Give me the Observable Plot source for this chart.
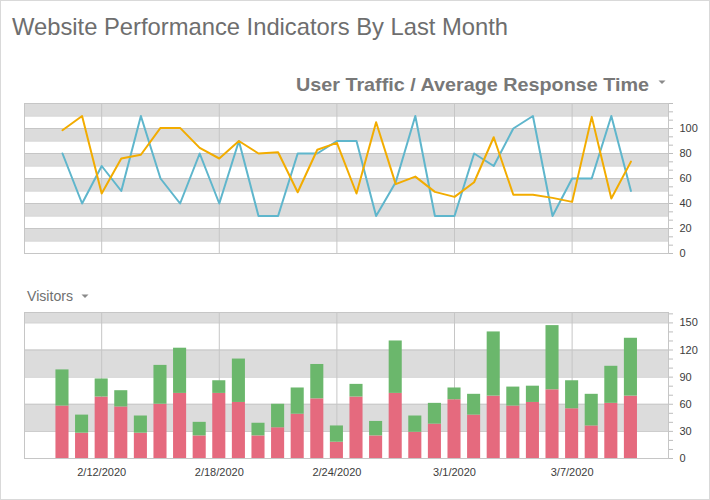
<!DOCTYPE html>
<html><head><meta charset="utf-8">
<script src="https://cdn.jsdelivr.net/npm/d3@7"></script>
<script src="https://cdn.jsdelivr.net/npm/@observablehq/plot@0.6"></script>
<style>
body{margin:0;background:#fff;}
#root{position:relative;width:710px;height:500px;overflow:hidden;background:#fff;font-family:"Liberation Sans",sans-serif;}
#root > svg, #root > div{position:absolute;}
#border{left:0;top:0;width:710px;height:500px;box-sizing:border-box;border:1px solid #d9d9d9;pointer-events:none;}
</style></head><body><div id="root"></div>
<script>
// ---- data ----
const dayLabels = ["2020-02-10","2020-02-11","2020-02-12","2020-02-13","2020-02-14","2020-02-15","2020-02-16","2020-02-17","2020-02-18","2020-02-19",
  "2020-02-20","2020-02-21","2020-02-22","2020-02-23","2020-02-24","2020-02-25","2020-02-26","2020-02-27","2020-02-28","2020-02-29",
  "2020-03-01","2020-03-02","2020-03-03","2020-03-04","2020-03-05","2020-03-06","2020-03-07","2020-03-08","2020-03-09","2020-03-10"];
const userTraffic = [80,40,70,50,110,60,40,80,40,90, 30,30,80,80,90,90,30,57,110,30, 30,80,70,100,110,30,60,60,110,50];
const avgResponse = [98.6,110,48,76,79,100.5,100.5,84.5,76,90, 80,81,49,83,88.5,48,105,55.5,61.5,49.3, 45.3,57,93,47,47,44.5,41.3,109.3,44,73.5];
const visitorsA = [58,28,68,57,28,60,72,25,72,62, 25,34,49,66,18,68,25,72,29,38, 65,48,69,58,62,76,55,36,61,69];
const visitorsB = [40,20,20,18,19,43,50,15,14,48, 14,26,29,38,18,14,16,58,18,23, 13,23,71,21,18,71,31,35,41,64];
const xTickLabels = ["2/12/2020","2/18/2020","2/24/2020","3/1/2020","3/7/2020"];
const topYLabels = [0,20,40,60,80,100];
const bottomYLabels = [0,30,60,90,120,150];

// ---- derived ----
const parseMDY = s => { const [m,d,y] = s.split("/").map(Number); return new Date(Date.UTC(y, m-1, d)); };
const fmtMDY = d => `${d.getUTCMonth()+1}/${d.getUTCDate()}/${d.getUTCFullYear()}`;
const days = dayLabels.map(s => new Date(s + "T00:00Z"));
const xTicks = xTickLabels.map(parseMDY);
const lineData = days.map((d,i) => ({date:d, traffic:userTraffic[i], response:avgResponse[i]}));
const barData = [];
days.forEach((d,i) => {
  barData.push({date:d, series:"A", y1:0, y2:visitorsA[i]});
  barData.push({date:d, series:"B", y1:visitorsA[i], y2:visitorsA[i]+visitorsB[i]});
});
const xDomain = [new Date("2020-02-08T01:30Z"), new Date("2020-03-11T22:00Z")];
const topMax = 120, botMax = 161.5;
const topStripes = d3.range(10, topMax, 20).map(v => [v, Math.min(v+10, topMax)]);
const botStripes = [[30,60],[90,120],[150,botMax]];
const topGrid = d3.range(10, topMax, 10);
const botGrid = d3.range(30, botMax, 30);
const topMinor = d3.range(0, topMax + 0.01, 20/3);
const botMinor = d3.range(0, botMax, 10);

const STRIPE = "#dcdcdc", GRID = "#c6c6c6", TXT = "#3c3c3c";
const FONT = {fontFamily:'"Liberation Sans", sans-serif', fontSize:"11px", background:"transparent"};
const x1f = () => xDomain[0], x2f = () => xDomain[1];

function background(stripes, grid) {
  return [
    Plot.rect(stripes, {x1:x1f, x2:x2f, y1:d=>d[0], y2:d=>d[1], fill:STRIPE}),
    Plot.ruleY(grid, {stroke:GRID}),
    Plot.ruleX(xTicks, {stroke:GRID}),
  ];
}

const topChart = Plot.plot({
  width:710, height:165, marginLeft:24, marginRight:42, marginTop:8, marginBottom:7,
  style:FONT,
  x:{type:"utc", domain:xDomain, axis:null},
  y:{domain:[0, topMax], axis:null},
  marks:[
    ...background(topStripes, topGrid),
    Plot.frame({stroke:GRID}),
    Plot.axisY(topMinor, {anchor:"right", text:null, tickSize:4, stroke:"#bdbdbd"}),
    Plot.axisY(topYLabels, {anchor:"right", tickSize:0, tickPadding:11, fill:TXT}),
    Plot.line(lineData, {x:"date", y:"traffic", stroke:"#5fb6cc", strokeWidth:2}),
    Plot.line(lineData, {x:"date", y:"response", stroke:"#f2ac00", strokeWidth:2}),
  ]
});

const botChart = Plot.plot({
  width:710, height:185, marginLeft:24, marginRight:42, marginTop:12, marginBottom:27,
  style:FONT,
  x:{type:"utc", domain:xDomain, axis:null},
  y:{domain:[0, botMax], axis:null},
  color:{domain:["A","B"], range:["#e56a7e","#6bb76c"]},
  marks:[
    ...background(botStripes, botGrid),
    Plot.rect(barData, {x1:d=>d3.utcHour.offset(d.date,-8), x2:d=>d3.utcHour.offset(d.date,8), y1:"y1", y2:"y2", fill:"series"}),
    Plot.frame({stroke:GRID}),
    Plot.axisY(botMinor, {anchor:"right", text:null, tickSize:4, stroke:"#bdbdbd"}),
    Plot.axisY(bottomYLabels, {anchor:"right", tickSize:0, tickPadding:11, fill:TXT}),
    Plot.axisX(xTicks, {anchor:"bottom", tickSize:0, tickPadding:10, tickFormat:fmtMDY, fill:TXT}),
  ]
});

const root = document.getElementById("root");
topChart.style.left = "0px"; topChart.style.top = "95px";
botChart.style.left = "0px"; botChart.style.top = "300px";
root.appendChild(topChart);
root.appendChild(botChart);

const ns = "http://www.w3.org/2000/svg";
const ov = document.createElementNS(ns, "svg");
ov.setAttribute("width", 710); ov.setAttribute("height", 500);
ov.style.left = "0px"; ov.style.top = "0px"; ov.style.pointerEvents = "none";
function addText(str, x, y, size, weight, fill, len) {
  const t = document.createElementNS(ns, "text");
  t.setAttribute("x", x); t.setAttribute("y", y);
  t.setAttribute("font-size", size); t.setAttribute("font-weight", weight);
  t.setAttribute("fill", fill); t.setAttribute("font-family", '"Liberation Sans", sans-serif');
  t.setAttribute("textLength", len); t.setAttribute("lengthAdjust", "spacingAndGlyphs");
  t.textContent = str; ov.appendChild(t);
}
function addTri(cx, cy) {
  const p = document.createElementNS(ns, "path");
  p.setAttribute("d", `M${cx-3.5},${cy-1.5}L${cx+3.5},${cy-1.5}L${cx},${cy+2}Z`);
  p.setAttribute("fill", "#8a8a8a"); ov.appendChild(p);
}
addText("Website Performance Indicators By Last Month", 12, 35, 24, 400, "#6e6e6e", 496);
addText("User Traffic / Average Response Time", 296, 91, 19, 700, "#787878", 353);
addTri(662, 82);
addText("Visitors", 27, 301, 14.5, 400, "#707070", 46);
addTri(85, 296);
root.appendChild(ov);
const b = document.createElement("div"); b.id = "border"; root.appendChild(b);
</script></body></html>
